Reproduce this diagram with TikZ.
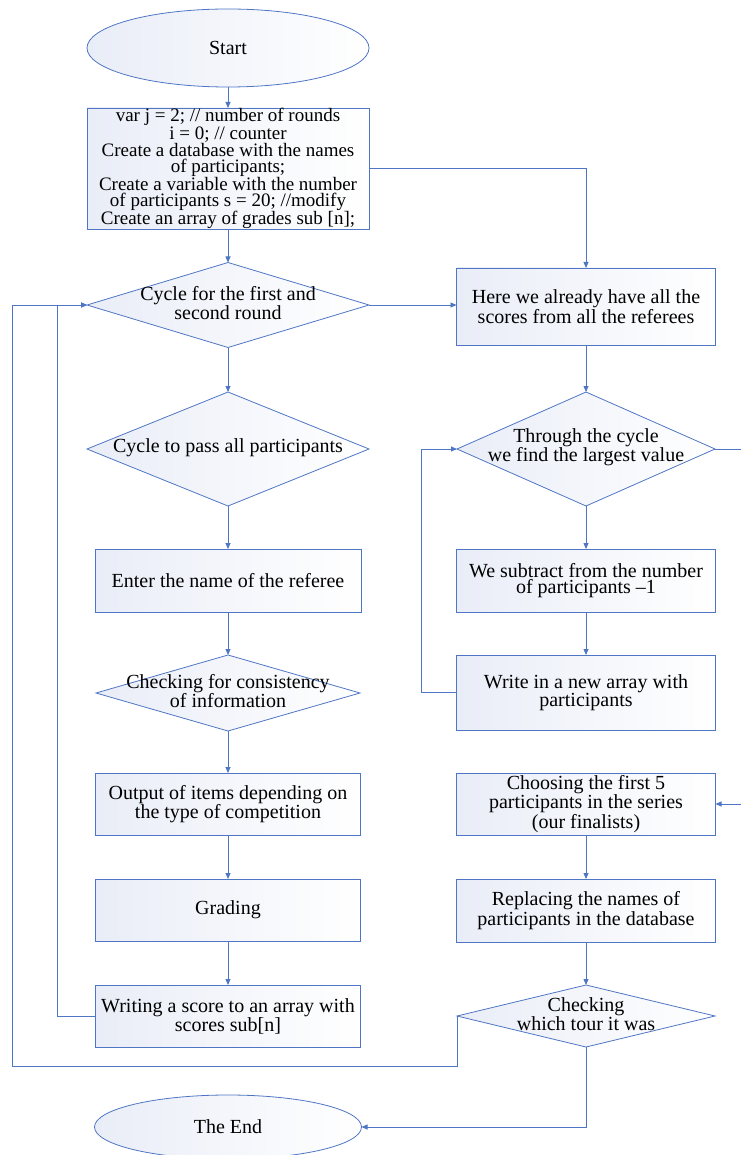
\documentclass[tikz,border=0pt]{standalone}
\usepackage{fontspec}
\setmainfont{Liberation Serif}
\newfontfamily\tnr{Liberation Serif}
\usetikzlibrary{shapes.geometric,arrows.meta}
\definecolor{lnc}{RGB}{79,118,196}
\definecolor{flc}{RGB}{233,237,247}
\begin{document}
\begin{tikzpicture}[x=1pt,y=-1pt,
  every node/.style={inner sep=0pt, outer sep=0pt},
  shp/.style={draw=lnc, line width=0.8pt, left color=flc, right color=white},
  boxn/.style={shp, rectangle, minimum width=#1},
  oval/.style={shp, ellipse},
  dia/.style={shp, diamond},
  txt/.style={font=\tnr\fontsize{20}{16.5}\selectfont, align=center, text=black},
  conn/.style={draw=lnc, line width=0.8pt},
  arr/.style={conn, -{Triangle[length=6pt,width=5pt]}}]
\useasboundingbox (0,0) rectangle (740,1155);

% ---------- left column ----------
\node[oval, minimum width=282pt, minimum height=78pt, txt] (start) at (228,48) {Start};
\node[boxn=282pt, minimum height=121pt, txt, font=\tnr\fontsize{19}{16}\selectfont] (init) at (228,168.5)
  {var j = 2; // number of rounds\\ i = 0; // counter\\Create a database with the names\\of participants;\\Create a variable with the number\\of participants s = 20; //modify\\Create an array of grades sub [n];};
\node[dia, minimum width=282pt, minimum height=85pt] (cyc1) at (228,305) {};
\node[txt] (cyc1t) at (228,303) {Cycle for the first and\\second round};
\node[dia, minimum width=282pt, minimum height=114pt] (cyc2) at (228,449) {};
\node[txt] (cyc2t) at (228,448) {Cycle to pass all participants};
\node[boxn=266pt, minimum height=63pt, txt] (enter) at (228,580.5) {Enter the name of the referee};
\node[dia, minimum width=264pt, minimum height=76pt] (chk1) at (228,693) {};
\node[txt] (chk1t) at (228,691) {Checking for consistency\\of information};
\node[boxn=265pt, minimum height=62pt, txt] (output) at (228,804) {Output of items depending on\\the type of competition};
\node[boxn=265pt, minimum height=62pt, txt] (grading) at (228,910) {Grading};
\node[boxn=265pt, minimum height=62pt, txt] (writing) at (228,1016) {Writing a score to an array with\\scores sub[n]};
\node[oval, minimum width=267pt, minimum height=64pt, txt] (theend) at (228,1127) {The End};

% ---------- right column ----------
\node[boxn=259pt, minimum height=77pt, txt] (here) at (586,306.5) {Here we already have all the\\scores from all the referees};
\node[dia, minimum width=258pt, minimum height=114pt] (thru) at (586,449) {};
\node[txt] (thrut) at (586,447) {Through the cycle\\we find the largest value};
\node[boxn=259pt, minimum height=63pt, txt] (subtr) at (586,580.5) {We subtract from the number\\of participants –1};
\node[boxn=259pt, minimum height=75pt, txt] (wnew) at (586,692.5) {Write in a new array with\\participants};
\node[boxn=259pt, minimum height=62pt, txt, font=\tnr\fontsize{20}{15.5}\selectfont] (choose) at (586,804) {Choosing the first 5\\participants in the series\\(our finalists)};
\node[boxn=259pt, minimum height=63pt, txt] (repl) at (586,910.5) {Replacing the names of\\participants in the database};
\node[dia, minimum width=258pt, minimum height=62pt] (tour) at (586,1016) {};
\node[txt] (tourt) at (586,1014) {Checking\\which tour it was};

% ---------- helper coordinates ----------
\coordinate (inL) at (57,1016);
\coordinate (outB) at (457,1066);
\coordinate (outL) at (12,1066);
\coordinate (loopL) at (421,692.5);
\coordinate (rgtA) at (746,449);

% ---------- connectors ----------
\draw[arr] (start.south) -- (init.north);
\draw[arr] (init.south) -- (cyc1.north);
\draw[arr] (init.east) -| (here.north);
\draw[arr] (cyc1.east) -- (cyc1.east -| here.west);
\draw[arr] (cyc1.south) -- (cyc2.north);
\draw[arr] (cyc2.south) -- (enter.north);
\draw[arr] (enter.south) -- (chk1.north);
\draw[arr] (chk1.south) -- (output.north);
\draw[arr] (output.south) -- (grading.north);
\draw[arr] (grading.south) -- (writing.north);
\draw[arr] (writing.west) -- (inL) |- (cyc1.west);
\draw[arr] (tour.west) -- (outB) -- (outL) |- (cyc1.west);
\draw[arr] (tour.south) |- (theend.east);

\draw[arr] (here.south) -- (thru.north);
\draw[arr] (thru.south) -- (subtr.north);
\draw[arr] (subtr.south) -- (wnew.north);
\draw[arr] (wnew.west) -- (loopL) |- (thru.west);
\draw[arr] (thru.east) -- (rgtA) |- (choose.east);
\draw[arr] (choose.south) -- (repl.north);
\draw[arr] (repl.south) -- (tour.north);
\end{tikzpicture}
\end{document}
